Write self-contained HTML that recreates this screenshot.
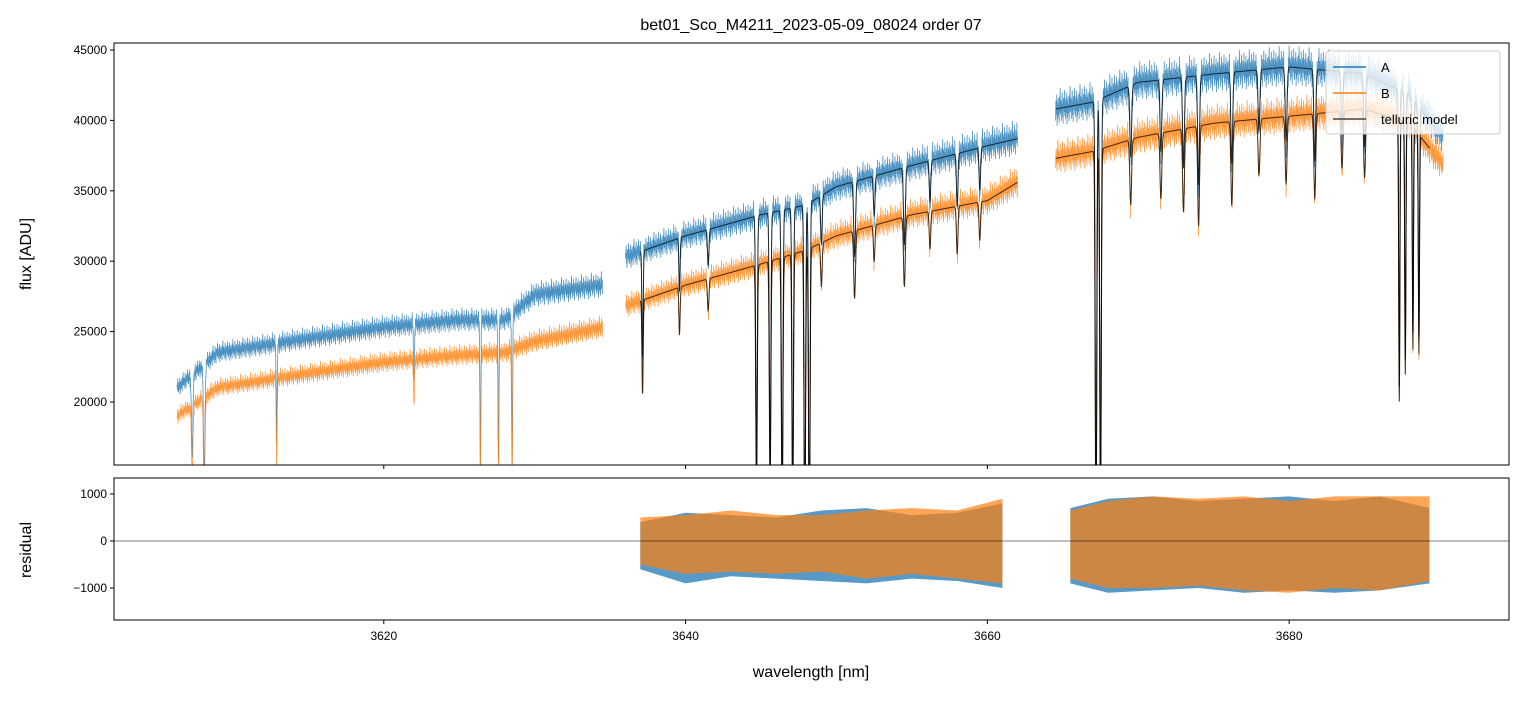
<!DOCTYPE html>
<html><head><meta charset="utf-8"><style>
body{margin:0;background:#fff}
svg text{font-family:"Liberation Sans",sans-serif;fill:#000}
</style></head><body>
<svg id="c" width="1523" height="696" xmlns="http://www.w3.org/2000/svg"></svg>
<script>
// ---- data ----
const contWl = [3606.3,3609,3612,3615,3620,3625,3628,3630,3634.5,3636,3640,3645,3648,3650,3655,3660,3662,3664.5,3667,3670,3675,3680,3685,3688,3690.2];
const contA  = [21000,23500,24000,24500,25300,25800,25800,27600,28300,30300,31800,33300,34000,35300,36800,38200,38700,40800,41300,42700,43300,43800,43300,41800,38800];
const contB  = [19000,21000,21500,22000,22800,23300,23500,24300,25300,26800,28300,29800,30800,31800,33300,34300,35600,37300,37800,38800,39800,40300,40800,39800,36800];
const gaps = [[3634.5,3636.0],[3662.0,3664.5]];
const lineWl    = [3607.3,3608.1,3612.9,3622.0,3626.4,3627.6,3628.5,3637.15,3639.6,3641.5,3644.7,3645.6,3646.4,3647.1,3647.9,3648.2,3649.0,3651.2,3652.5,3654.5,3656.2,3658.0,3659.5,3667.2,3667.5,3669.5,3671.5,3673.0,3674.0,3676.2,3678.0,3679.8,3681.7,3683.5,3685.0,3687.3,3687.7,3688.2,3688.6];
const lineDepth = [0.25,0.35,0.3,0.15,0.4,0.4,0.4,0.25,0.12,0.08,0.55,0.55,0.6,0.6,0.7,0.7,0.1,0.15,0.08,0.15,0.08,0.1,0.08,0.75,0.7,0.12,0.12,0.15,0.18,0.15,0.1,0.12,0.15,0.1,0.12,0.5,0.45,0.4,0.4];
const lineWidth = [0.05,0.05,0.03,0.03,0.03,0.03,0.03,0.04,0.04,0.05,0.05,0.05,0.05,0.05,0.05,0.05,0.05,0.06,0.05,0.06,0.05,0.05,0.05,0.05,0.05,0.06,0.06,0.06,0.06,0.06,0.06,0.06,0.06,0.06,0.06,0.04,0.04,0.04,0.04];
const noiseA = [0.012,-0.008,0.03,-0.015,0.005,-0.02,0.015,0.0,-0.01,0.025,-0.03,0.01,-0.018,0.008,0.018,-0.012,0.004,-0.025,0.02,-0.006,0.035,-0.01,0.0,0.014,-0.022,0.009,-0.004,0.027,-0.016,0.006,-0.028,0.017,0.002];
const resWl  = [3637,3640,3643,3646,3649,3652,3655,3658,3661,3662,3665.5,3668,3671,3674,3677,3680,3683,3686,3689.3];
const resHiA = [400,600,550,500,650,700,550,600,800,0,700,900,950,850,900,950,850,950,700];
const resLoA = [-600,-900,-750,-800,-850,-900,-800,-850,-1000,0,-900,-1100,-1050,-1000,-1100,-1050,-1100,-1050,-900];
const resHiB = [500,550,650,550,550,650,700,650,900,0,650,850,950,900,950,850,950,950,950];
const resLoB = [-500,-700,-650,-700,-650,-800,-700,-800,-900,0,-800,-1000,-1000,-950,-1050,-1100,-1000,-1050,-850];
const xTicks = [3620,3640,3660,3680];
const yTicks = [20000,25000,30000,35000,40000,45000];
const rTicks = [-1000,0,1000];
const model = [3637.0,3689.3];

// ---- axes ----
const L=114,R=1509,T1=43,B1=465,T2=478,B2=620;
const X=w=>L+(w-3602.12)/(3694.57-3602.12)*(R-L);
const Y=f=>B1-(f-15525)/(45497-15525)*(B1-T1);
const Yr=r=>B2-(r+1680)/(1340+1680)*(B2-T2);
const svg=document.getElementById('c');const NS='http://www.w3.org/2000/svg';
function mk(tag,at,parent){const e=document.createElementNS(NS,tag);for(const k in at)e.setAttribute(k,at[k]);(parent||svg).appendChild(e);return e;}
function interp(xs,ys,x){for(let i=0;i<xs.length-1;i++){if(x<=xs[i+1]){const t=(x-xs[i])/(xs[i+1]-xs[i]);return ys[i]+t*(ys[i+1]-ys[i]);}}return ys[ys.length-1];}
function absorb(w){let s=1;for(let i=0;i<lineWl.length;i++){const d=(w-lineWl[i])/lineWidth[i];if(Math.abs(d)<5)s*=1-lineDepth[i]*Math.exp(-d*d/2);}return s;}
const defs=mk('defs',{});const cp=mk('clipPath',{id:'cp1'},defs);mk('rect',{x:L,y:T1,width:R-L,height:B1-T1},cp);
const cp2=mk('clipPath',{id:'cp2'},defs);mk('rect',{x:L,y:T2,width:R-L,height:B2-T2},cp2);
const g1=mk('g',{'clip-path':'url(#cp1)'});
function spectrum(cont,color,noise,name,w0,w1,isModel,off){
  let d='';let pen=false;let k=off||0;
  for(let w=w0;w<=w1;w+=0.02){
    let inGap=gaps.some(g=>w>g[0]&&w<g[1]);
    if(inGap){pen=false;continue;}
    let f=interp(contWl,cont,w)*absorb(w);
    if(noise)f*=1+noiseA[k++%noiseA.length];
    d+=(pen?'L':'M')+X(w).toFixed(1)+' '+Y(f).toFixed(1);pen=true;
  }
  const p=mk('path',{d:d,fill:'none',stroke:color,'stroke-width':isModel?1:0.8,'stroke-opacity':isModel?0.75:0.8},g1);
  
  
}
spectrum(contA,'#1f77b4',true,'series-a',contWl[0],contWl[contWl.length-1],false,0);
spectrum(contB,'#ff7f0e',true,'series-b',contWl[0],contWl[contWl.length-1],false,7);
spectrum(contA,'#000',false,'telluric-model-a',model[0],model[1],true);
spectrum(contB,'#000',false,'telluric-model-b',model[0],model[1],true);
mk('rect',{x:L,y:T1,width:R-L,height:B1-T1,fill:'none',stroke:'#000','stroke-width':1,});
yTicks.forEach(v=>{const y=Y(v);mk('line',{x1:L-4,x2:L,y1:y,y2:y,stroke:'#000'});
  const t=mk('text',{x:L-7,y:y+4,'text-anchor':'end','font-size':12});t.textContent=v;
  });
xTicks.forEach(v=>{const x=X(v);mk('line',{x1:x,x2:x,y1:B1,y2:B1+4,stroke:'#000'});mk('line',{x1:x,x2:x,y1:B2,y2:B2+4,stroke:'#000'});
  const t=mk('text',{x:x,y:B2+20,'text-anchor':'middle','font-size':12});t.textContent=v;
  });
// residual
const g2=mk('g',{'clip-path':'url(#cp2)'});
function band(hi,lo,color,name,op){
  const segs=[[0,9],[10,resWl.length]];
  segs.forEach(s=>{let d='';for(let i=s[0];i<s[1];i++)d+=(i==s[0]?'M':'L')+X(resWl[i])+' '+Yr(hi[i]);
    for(let i=s[1]-1;i>=s[0];i--)d+='L'+X(resWl[i])+' '+Yr(lo[i]);
    const p=mk('path',{d:d+'Z',fill:color,'fill-opacity':op},g2);
    });
}
band(resHiA,resLoA,'#1f77b4','residual-a',0.75);
band(resHiB,resLoB,'#ff7f0e','residual-b',0.7);
mk('line',{x1:L,x2:R,y1:Yr(0),y2:Yr(0),stroke:'#000','stroke-width':0.5,});
mk('rect',{x:L,y:T2,width:R-L,height:B2-T2,fill:'none',stroke:'#000',});
rTicks.forEach(v=>{const y=Yr(v);mk('line',{x1:L-4,x2:L,y1:y,y2:y,stroke:'#000'});
  const t=mk('text',{x:L-7,y:y+4,'text-anchor':'end','font-size':12});t.textContent=v<0?'\u2212'+(-v):v;
  });
// titles
function txt(s,at,name){const t=mk('text',at);t.textContent=s;return t;}
txt('bet01_Sco_M4211_2023-05-09_08024  order 07',{x:811,y:30,'text-anchor':'middle','font-size':16,'xml:space':'preserve'},'chart-title');
txt('wavelength [nm]',{x:811,y:677,'text-anchor':'middle','font-size':16},'x-axis-title');
txt('flux [ADU]',{x:31,y:254,'text-anchor':'middle','font-size':16,transform:'rotate(-90 31 254)'},'y-axis-title');
txt('residual',{x:31,y:550,'text-anchor':'middle','font-size':16,transform:'rotate(-90 31 550)'},'residual-axis-title');
// legend
const lg=mk('g',{});
mk('rect',{x:1326,y:51,width:174,height:83,rx:3,fill:'#fff','fill-opacity':0.8,stroke:'#ccc'},lg);
[['A','#1f77b4'],['B','#ff7f0e'],['telluric model','#444']].forEach((e,i)=>{const y=67+i*26;
  mk('line',{x1:1333,x2:1366,y1:y,y2:y,stroke:e[1],'stroke-width':1.5},lg);
  const t=mk('text',{x:1381,y:y+5,'font-size':13},lg);t.textContent=e[0];
  });
</script>
</body></html>
